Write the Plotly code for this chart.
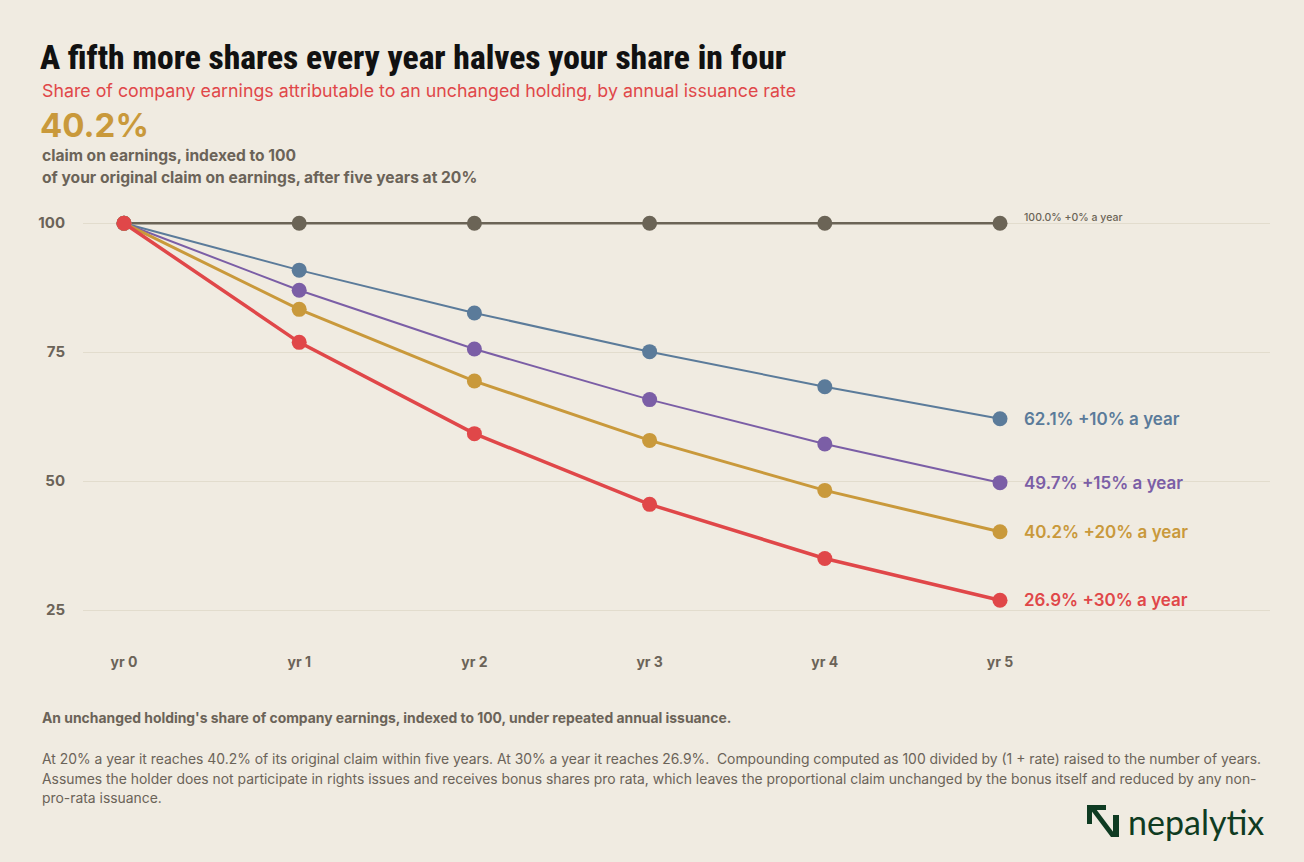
import plotly.graph_objects as go

years = ["yr 0", "yr 1", "yr 2", "yr 3", "yr 4", "yr 5"]
x_pos = [0, 1, 2, 3, 4, 5]

rates = ["+0%", "+10%", "+15%", "+20%", "+30%"]
share_0 = [100.0, 100.0, 100.0, 100.0, 100.0, 100.0]
share_10 = [100.0, 90.9, 82.6, 75.1, 68.3, 62.1]
share_15 = [100.0, 87.0, 75.6, 65.8, 57.2, 49.7]
share_20 = [100.0, 83.3, 69.4, 57.9, 48.2, 40.2]
share_30 = [100.0, 76.9, 59.2, 45.5, 35.0, 26.9]

series = [share_0, share_10, share_15, share_20, share_30]
colors = ["#6b6456", "#5b7b9a", "#7b5ea6", "#c9993b", "#e04749"]
widths = [2.5, 2, 2, 3, 3.5]

footnote_lines = [
    "At 20% a year it reaches 40.2% of its original claim within five years. At 30% a year it reaches 26.9%.  "
    "Compounding computed as 100 divided by (1 + rate) raised to the number of years.",
    "Assumes the holder does not participate in rights issues and receives bonus shares pro rata, which leaves "
    "the proportional claim unchanged by the bonus itself and reduced by any non-",
    "pro-rata issuance.",
]

BG = "#f0ebe1"
GREY = "#6b6358"
BODY = "Inter, Roboto, sans-serif"

# plot area in pixels
L, R, T, B = 83, 1270, 200, 640


def px(x, y):
    return (x - L) / (R - L), (B - y) / (B - T)


fig = go.Figure()

for vals, col, w in zip(series, colors, widths):
    fig.add_trace(go.Scatter(
        x=x_pos, y=vals, mode="lines+markers",
        line=dict(color=col, width=w),
        marker=dict(color=col, size=15),
        hoverinfo="skip", showlegend=False))

# end labels
for i, (vals, col, r) in enumerate(zip(series, colors, rates)):
    big = i > 0
    fig.add_annotation(
        x=x_pos[-1], y=vals[-1], xref="x", yref="y",
        text=f"{vals[-1]:.1f}% {r} a year",
        xanchor="left", yanchor="middle", xshift=22,
        yshift=0 if big else 6,
        showarrow=False,
        font=dict(family=BODY, size=17 if big else 10.5, color=col, weight=600 if big else 500))


def note(text, x, y, size, color, weight=400, family=BODY, anchor="left"):
    xp, yp = px(x, y)
    fig.add_annotation(x=xp, y=yp, xref="paper", yref="paper", text=text,
                       showarrow=False, xanchor=anchor, yanchor="middle", align="left",
                       font=dict(family=family, size=size, color=color, weight=weight))


note("A fifth more shares every year halves your share in four", 38, 57, 33.5, "#111111",
     weight=800, family="'Liberation Sans Narrow', 'Roboto Condensed', Roboto, sans-serif")
note("Share of company earnings attributable to an unchanged holding, by annual issuance rate",
     40, 91, 17.8, "#e04749")
note("40.2%", 38, 125, 33, "#c9993b", weight=700)
note("claim on earnings, indexed to 100", 40, 155, 15.6, GREY, weight=700)
note("of your original claim on earnings, after five years at 20%", 40, 177, 15.6, GREY, weight=700)
note("An unchanged holding's share of company earnings, indexed to 100, under repeated annual issuance.",
     40, 718, 13.9, GREY, weight=700)

for line, yy in zip(footnote_lines, [759, 779, 798]):
    note(line, 40, yy, 13.9, GREY)

# logo
note("nepalytix", 1126, 821, 34, "#0f3b22", weight=400, family="Lato, Inter, sans-serif")
green = "#0f3b22"
icon_polys = [
    [(1087, 805), (1106, 805), (1106, 810), (1092, 810), (1092, 824), (1087, 824)],
    [(1087, 805), (1093, 805), (1117, 837), (1111, 837)],
    [(1113, 815), (1119, 815), (1119, 837), (1113, 837)],
]
for poly in icon_polys:
    pts = [px(a, b) for a, b in poly]
    path = "M " + " L ".join(f"{a:.5f},{b:.5f}" for a, b in pts) + " Z"
    fig.add_shape(type="path", path=path, xref="paper", yref="paper",
                  fillcolor=green, line=dict(width=0))

fig.update_xaxes(
    range=[-0.234, 6.541], tickvals=x_pos, ticktext=years,
    showgrid=False, zeroline=False, showline=False, ticks="",
    tickfont=dict(family=BODY, size=14, color=GREY, weight=700),
    ticklabelstandoff=12)
fig.update_yaxes(
    range=[19.2, 104.5], tickvals=[25, 50, 75, 100],
    showgrid=True, gridcolor="#e2dccd", gridwidth=1.2, zeroline=False, showline=False, ticks="",
    tickfont=dict(family=BODY, size=15, color=GREY, weight=700),
    ticklabelstandoff=17)

fig.update_layout(
    width=1304, height=862,
    margin=dict(l=L, r=1304 - R, t=T, b=862 - B),
    paper_bgcolor=BG, plot_bgcolor=BG,
    showlegend=False)

fig.write_html("out.html", config={"displayModeBar": False},
               post_script="document.body.style.margin='0';document.body.style.background='%s';" % BG)
